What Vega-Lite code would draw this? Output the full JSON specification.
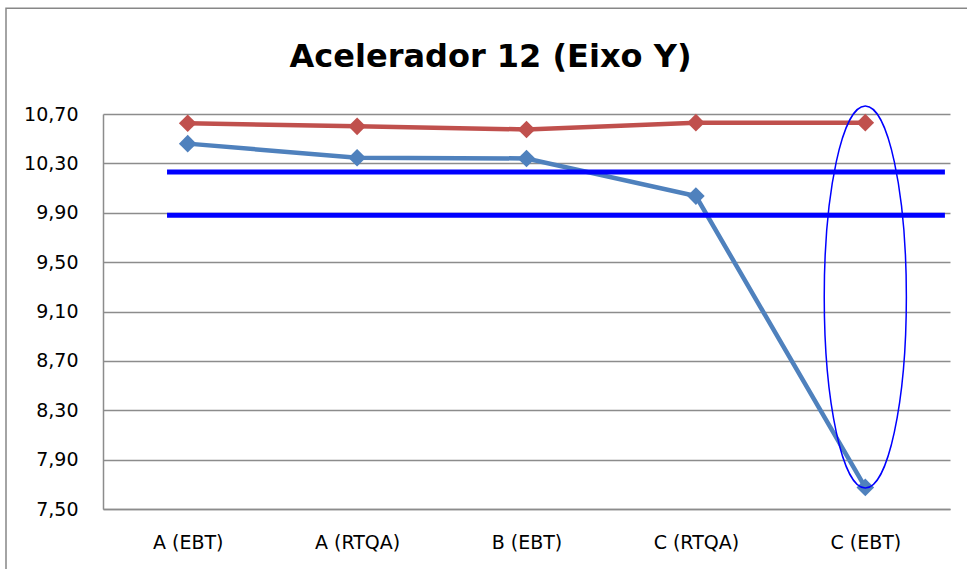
{
  "$schema": "https://vega.github.io/schema/vega-lite/v6.json",
  "width": 847,
  "height": 395,
  "autosize": {"type": "none"},
  "padding": {"left": 103, "top": 114, "right": 17, "bottom": 60},
  "background": "white",
  "title": {
    "text": "Acelerador 12 (Eixo Y)",
    "font": "DejaVu Sans",
    "fontSize": 32,
    "fontWeight": "bold",
    "color": "black",
    "anchor": "middle",
    "frame": "group",
    "baseline": "alphabetic",
    "offset": -91,
    "dx": -36
  },
  "datasets": {
    "series": [
      {"cat": "A (EBT)", "i": 0, "serie": "S1", "v": 10.625},
      {"cat": "A (RTQA)", "i": 1, "serie": "S1", "v": 10.6},
      {"cat": "B (EBT)", "i": 2, "serie": "S1", "v": 10.575},
      {"cat": "C (RTQA)", "i": 3, "serie": "S1", "v": 10.63},
      {"cat": "C (EBT)", "i": 4, "serie": "S1", "v": 10.63},
      {"cat": "A (EBT)", "i": 0, "serie": "S2", "v": 10.46},
      {"cat": "A (RTQA)", "i": 1, "serie": "S2", "v": 10.345},
      {"cat": "B (EBT)", "i": 2, "serie": "S2", "v": 10.34},
      {"cat": "C (RTQA)", "i": 3, "serie": "S2", "v": 10.035},
      {"cat": "C (EBT)", "i": 4, "serie": "S2", "v": 7.675}
    ],
    "limits": [
      {"y": 10.23, "xs": -0.122, "xe": 4.47},
      {"y": 9.88, "xs": -0.122, "xe": 4.47}
    ],
    "frame": [
      {"x0": -1.0726, "x1": 6, "y0": 11.556, "y1": 6}
    ],
    "highlight": [
      {"i": 4, "y": 9.2175}
    ]
  },
  "layer": [
    {
      "data": {"name": "frame"},
      "mark": {"type": "rect", "fill": "transparent", "stroke": "#878787", "strokeWidth": 1.5},
      "encoding": {
        "x": {
          "field": "x0",
          "type": "quantitative",
          "scale": {"domain": [-0.5, 4.5], "nice": false, "zero": false},
          "axis": {
            "values": [0, 1, 2, 3, 4],
            "labelExpr": "['A (EBT)','A (RTQA)','B (EBT)','C (RTQA)','C (EBT)'][datum.value]",
            "title": null,
            "grid": false,
            "ticks": false,
            "tickSize": 0,
            "domainColor": "#8c8c8c",
            "domainWidth": 1.5,
            "labelFont": "DejaVu Sans",
            "labelFontSize": 19,
            "labelColor": "black",
            "labelPadding": 24,
            "labelFlush": false,
            "labelOverlap": false
          }
        },
        "x2": {"field": "x1"},
        "y": {
          "field": "y0",
          "type": "quantitative",
          "scale": {"domain": [7.5, 10.7], "nice": false, "zero": false},
          "axis": {
            "values": [7.5, 7.9, 8.3, 8.7, 9.1, 9.5, 9.9, 10.3, 10.7],
            "labelExpr": "replace(format(datum.value, '.2f'), '.', ',')",
            "title": null,
            "grid": true,
            "gridColor": "#8c8c8c",
            "gridWidth": 1.3,
            "ticks": false,
            "tickSize": 0,
            "domainColor": "#8c8c8c",
            "domainWidth": 1.5,
            "labelFont": "DejaVu Sans",
            "labelFontSize": 19,
            "labelColor": "black",
            "labelPadding": 25,
            "labelFlush": false,
            "labelOverlap": false
          }
        },
        "y2": {"field": "y1"}
      }
    },
    {
      "data": {"name": "series"},
      "mark": {"type": "line", "strokeWidth": 4.5},
      "encoding": {
        "x": {"field": "i", "type": "quantitative"},
        "y": {"field": "v", "type": "quantitative"},
        "color": {"field": "serie", "type": "nominal", "scale": {"domain": ["S1", "S2"], "range": ["#C0504D", "#4F81BD"]}, "legend": null}
      }
    },
    {
      "data": {"name": "series"},
      "mark": {"type": "point", "shape": "diamond", "size": 310, "filled": true, "opacity": 1},
      "encoding": {
        "x": {"field": "i", "type": "quantitative"},
        "y": {"field": "v", "type": "quantitative"},
        "color": {"field": "serie", "type": "nominal", "legend": null}
      }
    },
    {
      "data": {"name": "limits"},
      "mark": {"type": "rule", "color": "#0000ff", "strokeWidth": 5},
      "encoding": {
        "x": {"field": "xs", "type": "quantitative"},
        "x2": {"field": "xe"},
        "y": {"field": "y", "type": "quantitative"}
      }
    },
    {
      "data": {"name": "highlight"},
      "mark": {
        "type": "point",
        "shape": "M0,-1A0.215,1,0,1,1,0,1A0.215,1,0,1,1,0,-1Z",
        "size": 145924,
        "filled": false,
        "stroke": "#0000ff",
        "strokeWidth": 1.5,
        "opacity": 1
      },
      "encoding": {
        "x": {"field": "i", "type": "quantitative"},
        "y": {"field": "y", "type": "quantitative"}
      }
    }
  ],
  "config": {
    "view": {"stroke": null}
  }
}
